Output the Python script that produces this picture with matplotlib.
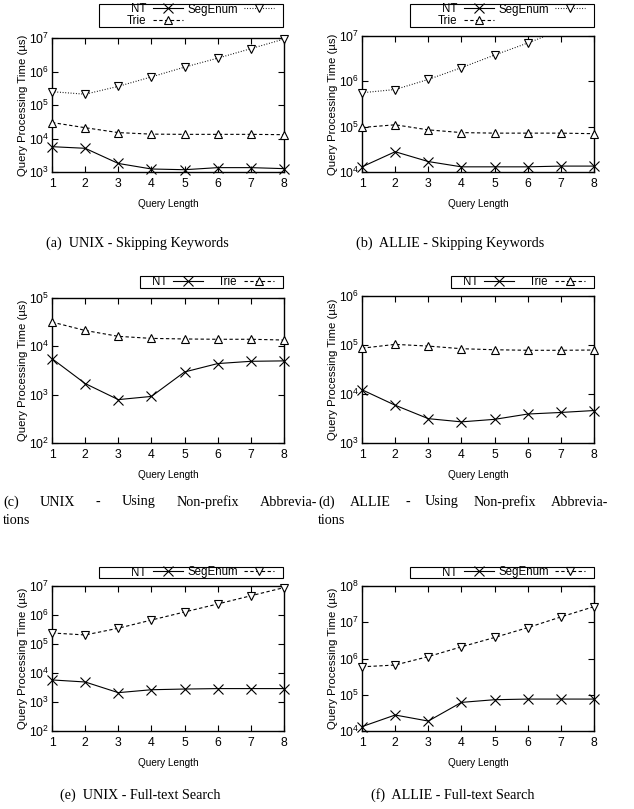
import numpy as np
import matplotlib.pyplot as plt
from matplotlib.lines import Line2D
from matplotlib.patches import Rectangle
from matplotlib.ticker import LogLocator, NullLocator

plt.rcParams['font.family'] = ['Liberation Sans', 'DejaVu Sans']
plt.rcParams['mathtext.fontset'] = 'custom'
plt.rcParams['mathtext.rm'] = 'Liberation Sans'
plt.rcParams['axes.linewidth'] = 1.0

# query lengths on the x axis
query_len = [1, 2, 3, 4, 5, 6, 7, 8]

# (a) UNIX - skipping keywords
unix_skip_nt = [5700, 5100, 1800, 1230, 1170, 1350, 1350, 1260]
unix_skip_trie = [30000, 21000, 15000, 13500, 13300, 13300, 13300, 13000]
unix_skip_seg = [250000, 210000, 360000, 690000, 1350000, 2500000, 4800000, 9300000]

# (b) ALLIE - skipping keywords
allie_skip_nt = [13000, 28000, 17000, 13000, 13000, 13000, 13500, 13500]
allie_skip_trie = [96000, 110000, 85000, 74000, 72000, 72000, 72000, 70000]
allie_skip_seg = [560000, 660000, 1100000, 2000000, 3800000, 7000000, 13500000, 26000000]

# (c) UNIX - non-prefix abbreviations
unix_abbr_nt = [5560, 1700, 790, 920, 2950, 4400, 4900, 5000]
unix_abbr_trie = [31800, 21300, 16100, 14600, 14200, 14000, 14000, 13500]

# (d) ALLIE - non-prefix abbreviations
allie_abbr_nt = [12200, 5900, 3140, 2700, 3040, 3900, 4200, 4600]
allie_abbr_trie = [86000, 103000, 95000, 84000, 80000, 78000, 78000, 79000]

# (e) UNIX - full-text search
unix_full_nt = [5770, 4900, 2100, 2650, 2800, 2900, 2900, 2900]
unix_full_seg = [240000, 205000, 350000, 670000, 1270000, 2400000, 4600000, 8800000]

# (f) ALLIE - full-text search
allie_full_nt = [13200, 27600, 18800, 61600, 73000, 76000, 76000, 76000]
allie_full_seg = [590000, 660000, 1130000, 2100000, 3800000, 7100000, 14000000, 27000000]

W, H = 634, 809
fig = plt.figure(figsize=(W / 100, H / 100), dpi=100)

DASH = (0, (3.0, 2.2))
DOT = (0, (0.8, 1.6))
FS = 8.3


def fig_rect(l, t, r, b):
    return [l / W, 1 - b / H, (r - l) / W, (b - t) / H]


def panel(rect, ylim, series, key_box, ncol, colsp):
    ax = fig.add_axes(fig_rect(*rect))
    handles = []
    for name, vals, ls, mk in series:
        vals = np.array(vals, dtype=float)
        ms = 6.5 if mk == 'x' else 5.5
        ax.plot(query_len, vals, color='black', ls=ls, lw=0.8, zorder=2)
        shown = np.where(vals <= ylim[1], vals, np.nan)
        ax.plot(query_len, shown, ls='none', marker=mk, ms=ms,
                mfc='white', mec='black', mew=0.8, clip_on=False, zorder=3)
        handles.append(Line2D([], [], color='black', ls=ls, lw=0.8, marker=mk,
                              ms=ms, mfc='white', mec='black', mew=0.8,
                              label=name))
    ax.set_yscale('log')
    ax.set_ylim(*ylim)
    ax.set_xlim(1, 8)
    ax.set_xticks(query_len)
    ax.yaxis.set_major_locator(LogLocator(base=10, numticks=12))
    ax.yaxis.set_minor_locator(NullLocator())
    ax.tick_params(direction='in', top=True, right=True, length=4, width=0.8,
                   labelsize=8.8)
    ax.tick_params(axis='x', pad=4)
    ax.tick_params(axis='y', pad=2)
    ax.set_xlabel('Query Length', fontsize=7.2, labelpad=7)
    ax.set_ylabel('Query Processing Time (µs)', fontsize=8.2, labelpad=1)

    l, t, r, b = key_box
    fig.add_artist(Rectangle((l / W, 1 - b / H), (r - l) / W, (b - t) / H,
                             transform=fig.transFigure, fill=False, lw=0.8,
                             ec='black'))
    ax.legend(handles=handles, ncol=ncol, loc='center right',
              bbox_to_anchor=((r - 9) / W, 1 - (t + b) / 2 / H),
              bbox_transform=fig.transFigure, frameon=False, markerfirst=False,
              handlelength=2.6, handletextpad=0.55, columnspacing=colsp,
              labelspacing=0.0, borderpad=0, borderaxespad=0, fontsize=FS)
    return ax


panel((52, 38, 284, 172), (1e3, 1e7),
      [('NT', unix_skip_nt, '-', 'x'), ('Trie', unix_skip_trie, DASH, '^'),
       ('SegEnum', unix_skip_seg, DOT, 'v')],
      (99, 4, 283, 27), 2, 0.35)
panel((362, 36, 594, 172), (1e4, 1e7),
      [('NT', allie_skip_nt, '-', 'x'), ('Trie', allie_skip_trie, DASH, '^'),
       ('SegEnum', allie_skip_seg, DOT, 'v')],
      (410, 4, 594, 27), 2, 0.35)
panel((52, 298, 284, 443), (1e2, 1e5),
      [('NT', unix_abbr_nt, '-', 'x'), ('Trie', unix_abbr_trie, DASH, '^')],
      (140, 276, 283, 288), 2, 1.3)
panel((362, 296, 594, 443), (1e3, 1e6),
      [('NT', allie_abbr_nt, '-', 'x'), ('Trie', allie_abbr_trie, DASH, '^')],
      (451, 276, 594, 288), 2, 1.3)
panel((52, 586, 284, 731), (1e2, 1e7),
      [('NT', unix_full_nt, '-', 'x'), ('SegEnum', unix_full_seg, DASH, 'v')],
      (99, 567, 283, 578), 2, 0.35)
panel((362, 586, 594, 731), (1e4, 1e8),
      [('NT', allie_full_nt, '-', 'x'), ('SegEnum', allie_full_seg, DASH, 'v')],
      (410, 567, 594, 578), 2, 0.35)

# sub-figure captions
cap = dict(family='Liberation Serif', fontsize=10.2, va='center')


def caption(x, y, s, ha='left'):
    return fig.text(x / W, 1 - y / H, s, ha=ha, **cap)


def justified(words, x0, x1, y):
    rend = fig.canvas.get_renderer()
    items = [caption(x0, y, w) for w in words]
    widths = [t.get_window_extent(rend).width for t in items]
    gap = (x1 - x0 - sum(widths)) / (len(words) - 1)
    x = x0
    for t, w in zip(items, widths):
        t.set_x(x / W)
        x += w + gap


caption(137, 243, '(a)  UNIX - Skipping Keywords', ha='center')
caption(450, 243, '(b)  ALLIE - Skipping Keywords', ha='center')
justified(['(c)', 'UNIX', '-', 'Using', 'Non-prefix', 'Abbrevia-'], 3, 317, 502)
justified(['(d)', 'ALLIE', '-', 'Using', 'Non-prefix', 'Abbrevia-'], 318, 608, 502)
caption(3, 521, 'tions')
caption(318, 521, 'tions')
caption(140, 795, '(e)  UNIX - Full-text Search', ha='center')
caption(453, 795, '(f)  ALLIE - Full-text Search', ha='center')

fig.savefig('out.png', dpi=100)
